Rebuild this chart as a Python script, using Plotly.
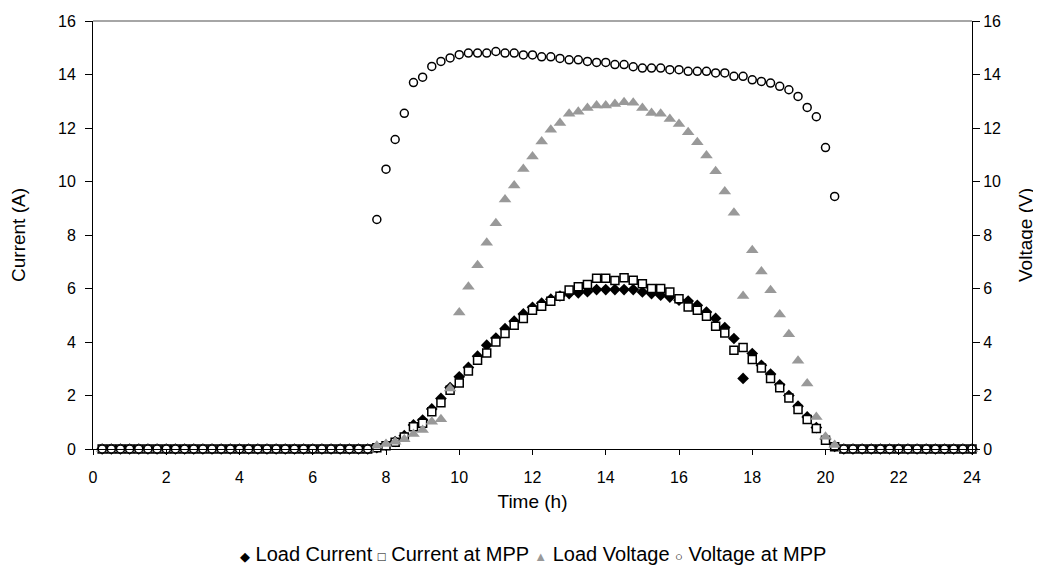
import plotly.graph_objects as go

# Time grid: quarter-hour samples through the day (hours)
hours = [i / 4 for i in range(1, 97)]

# Number of night samples before sunrise / after sunset (values are zero)
night_before = 30   # 0.25 .. 7.5 h
night_after = 15    # 20.5 .. 24 h

# Daytime values, 7.75 h .. 20.25 h (51 samples)
load_current_day = [0.05, 0.14, 0.28, 0.50, 0.90, 1.08, 1.50, 1.89, 2.30, 2.70,
                    3.05, 3.47, 3.88, 4.15, 4.50, 4.78, 5.05, 5.30, 5.45, 5.60,
                    5.72, 5.81, 5.84, 5.88, 5.96, 5.96, 5.96, 5.96, 5.96, 5.87,
                    5.81, 5.75, 5.68, 5.56, 5.53, 5.37, 5.12, 4.88, 4.54, 4.13,
                    2.64, 3.57, 3.13, 2.80, 2.40, 2.00, 1.60, 1.20, 0.80, 0.38,
                    0.10]
current_mpp_day = [0.05, 0.12, 0.25, 0.45, 0.83, 0.96, 1.39, 1.73, 2.20, 2.47,
                   2.92, 3.32, 3.59, 4.00, 4.32, 4.63, 4.88, 5.19, 5.34, 5.52,
                   5.71, 5.94, 6.07, 6.15, 6.38, 6.38, 6.30, 6.40, 6.31, 6.18,
                   6.00, 6.00, 5.87, 5.62, 5.31, 5.19, 4.96, 4.59, 4.34, 3.69,
                   3.79, 3.35, 3.03, 2.64, 2.29, 1.91, 1.48, 1.10, 0.77, 0.33,
                   0.08]
load_voltage_day = [0.12, 0.19, 0.27, 0.36, 0.56, 0.71, 1.02, 1.11, 2.26, 5.10,
                    6.07, 6.87, 7.71, 8.44, 9.33, 9.85, 10.47, 10.93, 11.50, 11.93,
                    12.19, 12.53, 12.61, 12.75, 12.84, 12.84, 12.90, 12.96, 12.94, 12.75,
                    12.56, 12.53, 12.34, 12.15, 11.84, 11.47, 10.97, 10.38, 9.63, 8.83,
                    5.72, 7.43, 6.64, 5.93, 5.03, 4.29, 3.30, 2.45, 1.20, 0.46,
                    0.15]
voltage_mpp_day = [8.58, 10.46, 11.57, 12.55, 13.70, 13.90, 14.30, 14.49, 14.62, 14.74,
                   14.80, 14.80, 14.80, 14.86, 14.80, 14.80, 14.73, 14.73, 14.66, 14.66,
                   14.60, 14.55, 14.55, 14.49, 14.45, 14.45, 14.37, 14.37, 14.29, 14.24,
                   14.24, 14.24, 14.18, 14.18, 14.12, 14.12, 14.12, 14.06, 14.06, 13.93,
                   13.93, 13.80, 13.74, 13.68, 13.56, 13.43, 13.18, 12.77, 12.42, 11.27,
                   9.44]

x_ticks = list(range(0, 25, 2))
y_ticks = list(range(0, 17, 2))

series_names = ["Load Current", "Current at MPP", "Load Voltage", "Voltage at MPP"]


def full_day(day_values):
    return [0.0] * night_before + day_values + [0.0] * night_after


load_current = full_day(load_current_day)
current_mpp = full_day(current_mpp_day)
load_voltage = full_day(load_voltage_day)
voltage_mpp = full_day(voltage_mpp_day)

FONT = "Liberation Sans, Arial, sans-serif"

fig = go.Figure()
fig.add_trace(go.Scatter(
    x=hours, y=load_current, name=series_names[0], mode="markers",
    marker=dict(symbol="diamond", size=9, color="black", line=dict(width=0)),
    cliponaxis=False))
fig.add_trace(go.Scatter(
    x=hours, y=current_mpp, name=series_names[1], mode="markers",
    marker=dict(symbol="square", size=8, color="white", line=dict(width=1.5, color="black")),
    cliponaxis=False))
fig.add_trace(go.Scatter(
    x=hours, y=load_voltage, name=series_names[2], mode="markers", yaxis="y2",
    marker=dict(symbol="triangle-up", size=11, color="#999999", line=dict(width=0)),
    cliponaxis=False))
fig.add_trace(go.Scatter(
    x=hours, y=voltage_mpp, name=series_names[3], mode="markers", yaxis="y2",
    marker=dict(symbol="circle", size=8, color="white", line=dict(width=1.5, color="black")),
    cliponaxis=False))

# Compact legend line (symbol glyph directly before each label)
sym = "<span style='font-size:13px;color:%s'>%s</span>"
legend_text = " ".join([
    sym % ("black", "◆") + " " + series_names[0],
    sym % ("black", "□") + " " + series_names[1],
    sym % ("#999999", "▲") + " " + series_names[2],
    sym % ("black", "○") + " " + series_names[3],
])

# The page body has an 8 px margin, so the figure is sized to fit the window.
fig.update_layout(
    width=1033, height=578,
    margin=dict(l=85, r=69, t=13, b=137, autoexpand=False),
    paper_bgcolor="white", plot_bgcolor="white",
    font=dict(family=FONT, size=16, color="black"),
    showlegend=False,
    xaxis=dict(range=[0, 24], tickvals=x_ticks, showgrid=False, zeroline=False,
               showline=True, linecolor="black", linewidth=1, automargin=False,
               ticks="outside", ticklen=5, tickcolor="black", ticklabelstandoff=9,
               title=dict(text="Time (h)", standoff=9)),
    yaxis=dict(range=[0, 16], tickvals=y_ticks, showgrid=False, zeroline=False,
               showline=True, linecolor="black", linewidth=1, automargin=False,
               ticks="outside", ticklen=7, tickcolor="black", ticklabelstandoff=6,
               title=dict(text="Current (A)", standoff=30)),
    yaxis2=dict(range=[0, 16], tickvals=y_ticks, overlaying="y", side="right",
                showgrid=False, zeroline=False, automargin=False,
                showline=True, linecolor="black", linewidth=1,
                ticks="outside", ticklen=7, tickcolor="black",
                title=dict(text="Voltage (V)", standoff=18)),
    shapes=[dict(type="line", xref="paper", yref="paper", x0=0, x1=1, y0=1, y1=1,
                 line=dict(color="#888888", width=1.5))],
    annotations=[dict(text=legend_text, xref="paper", yref="paper", x=0.5, y=-0.245,
                      xanchor="center", yanchor="middle", showarrow=False,
                      font=dict(size=20, family=FONT, color="black"))],
)

fig.write_html("out.html")
